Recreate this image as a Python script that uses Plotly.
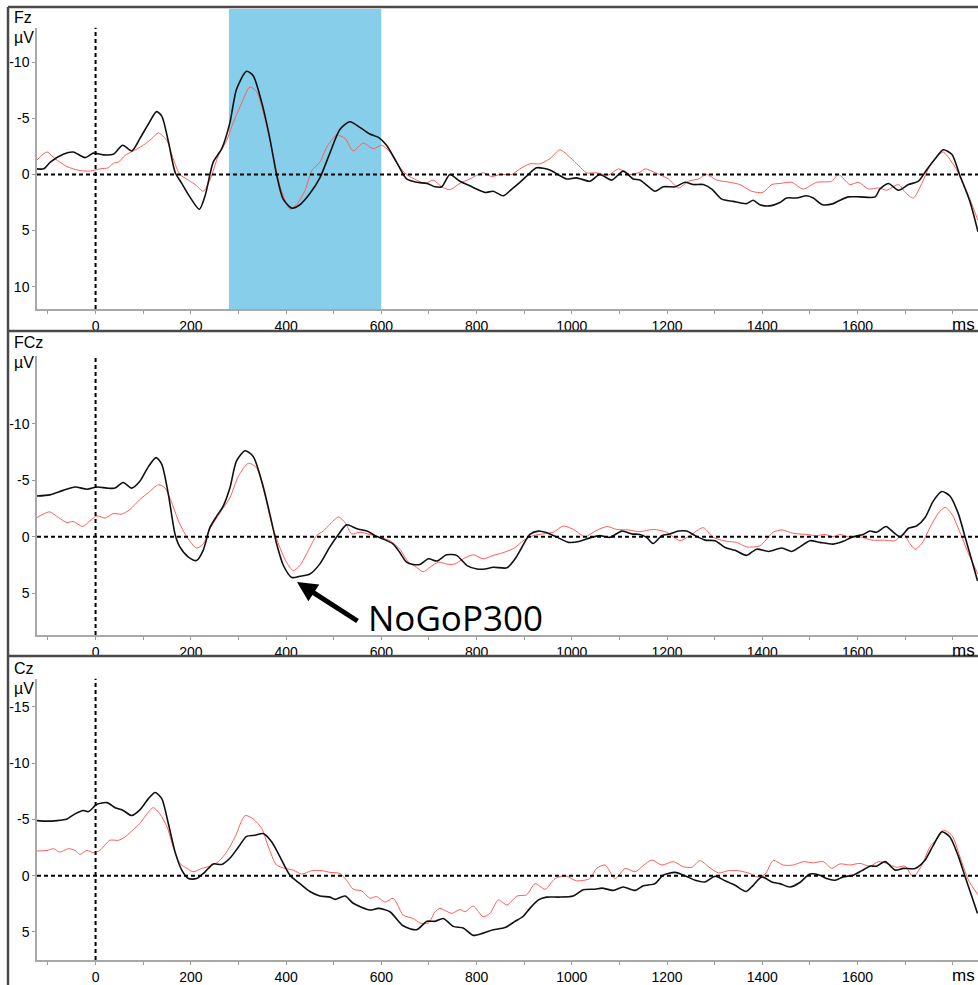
import plotly.graph_objects as go

# ---------------- data (time in ms, amplitude in µV) ----------------
fz_black = [(-123,-0.5),(-109,-0.5),(-95,-1.1),(-68,-1.8),(-47,-2.0),(-22,-1.5),(-5,-1.9),(16,-1.75),(37,-1.8),(57,-2.6),(76,-2.1),(93,-3.2),(111,-4.5),(128,-5.6),(139,-5.2),(153,-2.9),(167,-0.2),(181,0.8),(198,2.0),(218,3.1),(230,1.9),(247,-1.1),(265,-2.3),(282,-4.6),(296,-7.6),(317,-9.2),(331,-8.8),(349,-6.4),(366,-3.2),(380,0.0),(394,2.2),(412,3.0),(429,2.7),(450,1.7),(471,0.3),(492,-1.9),(513,-4.0),(534,-4.7),(555,-4.2),(576,-3.6),(594,-3.3),(611,-2.6),(632,-1.1),(653,0.4),(674,0.7),(696,0.8),(713,1.1),(727,1.1),(744,0.0),(765,0.6),(786,1.0),(800,1.3),(818,1.6),(835,1.5),(856,1.9),(874,1.3),(891,0.7),(909,0.0),(926,-0.6),(954,-0.4),(971,0.0),(989,0.4),(1010,0.3),(1038,0.6),(1059,0.0),(1084,0.5),(1108,-0.3),(1129,0.4),(1143,0.5),(1164,1.2),(1175,1.5),(1192,1.1),(1217,1.1),(1238,0.7),(1255,0.9),(1276,0.9),(1294,1.3),(1315,2.2),(1339,2.4),(1367,2.6),(1381,2.3),(1395,2.7),(1416,2.8),(1437,2.5),(1451,2.1),(1472,2.1),(1493,1.9),(1507,2.1),(1527,2.7),(1549,2.6),(1563,2.3),(1581,2.0),(1605,2.0),(1637,2.0),(1647,1.3),(1665,0.8),(1686,1.4),(1707,0.9),(1728,0.6),(1745,-0.4),(1763,-1.4),(1780,-2.2),(1798,-1.8),(1815,0.1),(1836,2.4),(1853,5.1)]
fz_red = [(-123,-1.3),(-102,-2.0),(-85,-1.4),(-60,-0.7),(-33,-0.35),(-12,-0.3),(9,-0.5),(27,-0.6),(37,-1.0),(48,-1.1),(62,-1.7),(79,-2.1),(100,-2.6),(118,-3.2),(132,-3.7),(150,-3.0),(163,-1.4),(177,0.0),(195,0.5),(212,1.0),(226,1.5),(240,0.5),(258,-1.7),(275,-3.0),(289,-4.6),(307,-6.4),(324,-7.8),(338,-7.4),(356,-4.9),(373,-1.7),(387,1.0),(408,3.1),(422,2.7),(440,1.4),(454,-0.35),(471,-1.1),(485,-2.4),(506,-3.5),(524,-3.2),(541,-2.1),(562,-2.8),(583,-2.3),(601,-2.6),(618,-2.0),(636,-0.8),(653,0.0),(674,0.5),(692,0.8),(709,0.5),(727,1.1),(744,1.35),(765,0.8),(786,0.4),(814,-0.15),(832,0.2),(849,0.0),(874,0.0),(891,-0.5),(912,-0.95),(933,-0.95),(954,-1.4),(975,-2.2),(997,-1.5),(1014,-0.8),(1031,-0.15),(1052,-0.15),(1077,0.05),(1098,-0.5),(1122,0.0),(1143,-0.2),(1154,-0.5),(1178,-0.1),(1203,0.4),(1224,1.2),(1245,0.6),(1266,0.4),(1283,0.0),(1304,0.5),(1332,0.7),(1353,0.9),(1378,1.5),(1401,1.6),(1420,0.9),(1437,0.8),(1462,0.7),(1486,1.3),(1514,0.7),(1546,0.6),(1560,0.0),(1584,0.9),(1602,0.7),(1623,1.3),(1644,1.2),(1661,1.4),(1686,0.9),(1700,1.6),(1717,2.1),(1735,0.8),(1752,-0.8),(1770,-1.7),(1780,-2.0),(1798,-1.1),(1815,0.1),(1836,2.2),(1853,4.1)]
fcz_black = [(-123,-3.6),(-96,-3.7),(-68,-4.1),(-43,-4.4),(-18,-4.2),(3,-4.4),(24,-4.3),(41,-4.3),(58,-4.8),(76,-4.3),(93,-4.9),(111,-6.2),(127,-7.0),(139,-6.4),(153,-3.7),(167,-0.2),(177,0.9),(195,1.8),(212,2.1),(226,1.2),(240,-0.8),(254,-1.8),(268,-2.7),(282,-4.3),(296,-6.7),(314,-7.6),(331,-7.1),(349,-4.9),(366,-2.0),(380,0.6),(394,2.5),(412,3.6),(429,3.5),(450,3.3),(471,2.4),(492,0.9),(510,-0.2),(527,-1.05),(549,-0.7),(570,-0.5),(587,-0.1),(604,0.2),(625,0.65),(639,1.4),(653,2.25),(667,2.45),(681,2.45),(699,1.95),(717,2.15),(737,1.6),(758,1.65),(780,2.55),(801,2.85),(818,2.85),(835,2.7),(864,2.75),(881,1.95),(895,0.95),(912,-0.2),(930,-0.5),(954,-0.25),(972,0.1),(993,0.5),(1017,0.4),(1038,0.1),(1059,-0.1),(1080,0.05),(1105,-0.5),(1126,-0.25),(1143,-0.2),(1157,0.05),(1171,0.6),(1189,-0.1),(1206,-0.25),(1224,-0.5),(1241,-0.5),(1259,-0.1),(1280,0.3),(1301,0.35),(1322,0.95),(1343,1.2),(1367,1.65),(1388,1.1),(1413,1.3),(1441,1.0),(1462,1.3),(1479,0.9),(1500,0.35),(1521,0.5),(1549,0.65),(1570,0.4),(1591,0.0),(1612,-0.2),(1626,-0.5),(1640,-0.4),(1660,-0.9),(1675,-0.4),(1690,0.0),(1707,-0.75),(1724,-0.95),(1742,-1.7),(1759,-3.15),(1777,-4.0),(1794,-3.6),(1812,-2.0),(1826,0.05),(1840,2.1),(1852,3.9)]
fcz_red = [(-123,-1.7),(-110,-2.0),(-96,-2.2),(-78,-1.7),(-60,-1.25),(-47,-1.35),(-27,-0.9),(-12,-1.4),(3,-1.85),(20,-1.65),(37,-2.05),(55,-2.0),(72,-2.4),(93,-3.3),(111,-3.9),(132,-4.6),(146,-4.3),(160,-3.0),(174,-1.4),(192,0.05),(212,1.0),(226,0.65),(240,-0.7),(261,-2.1),(282,-3.45),(300,-5.35),(321,-6.5),(338,-6.1),(356,-3.6),(370,-1.1),(387,0.95),(401,2.25),(415,3.0),(429,2.55),(447,1.2),(464,-0.1),(478,-0.5),(492,-1.1),(510,-1.75),(524,-1.25),(538,-0.25),(555,-0.4),(576,-0.2),(597,0.05),(618,0.35),(639,1.1),(657,2.25),(674,2.7),(688,3.1),(702,2.7),(720,2.25),(741,2.45),(755,2.4),(772,1.95),(793,1.6),(814,1.95),(835,1.65),(860,1.35),(881,0.95),(898,0.35),(919,-0.1),(940,-0.25),(961,-0.4),(982,-0.95),(1003,-0.65),(1028,0.0),(1049,-0.5),(1074,-0.9),(1094,-0.65),(1119,-0.6),(1143,-0.45),(1171,-0.65),(1199,-0.4),(1227,0.35),(1248,-0.1),(1276,-0.8),(1297,0.05),(1325,0.4),(1346,0.5),(1367,0.9),(1395,0.8),(1423,-0.4),(1441,-0.6),(1465,-0.3),(1493,-0.2),(1514,-0.1),(1532,-0.2),(1549,0.0),(1563,-0.2),(1584,0.05),(1605,0.0),(1630,0.3),(1655,0.3),(1679,0.35),(1696,-0.25),(1710,0.6),(1721,1.1),(1735,0.6),(1752,-0.8),(1770,-2.1),(1784,-2.6),(1798,-2.0),(1815,-0.4),(1833,1.5),(1853,3.3)]
cz_black = [(-123,-4.9),(-102,-4.85),(-81,-4.9),(-60,-5.05),(-43,-5.5),(-26,-5.8),(-15,-5.7),(3,-6.35),(24,-6.5),(41,-6.05),(58,-5.8),(76,-5.35),(93,-5.85),(111,-6.85),(125,-7.4),(139,-6.85),(153,-4.6),(167,-2.1),(181,-0.5),(195,0.25),(212,0.25),(230,-0.35),(247,-1.05),(265,-1.0),(282,-1.55),(300,-2.55),(317,-3.5),(335,-3.6),(352,-3.75),(370,-3.0),(387,-1.7),(408,-0.05),(429,0.7),(450,1.4),(471,1.8),(492,1.9),(503,2.1),(524,1.8),(541,2.45),(576,3.05),(594,2.9),(618,3.2),(646,4.45),(674,4.8),(696,4.05),(713,4.05),(730,3.8),(751,4.5),(772,4.65),(793,5.3),(814,5.1),(835,4.8),(860,4.6),(881,4.05),(898,3.6),(912,2.9),(930,2.15),(947,1.9),(972,1.9),(1003,1.8),(1024,1.25),(1049,1.2),(1063,1.1),(1087,1.3),(1108,1.0),(1133,1.3),(1150,0.9),(1175,0.7),(1192,-0.05),(1217,-0.3),(1238,0.0),(1259,0.4),(1280,0.55),(1301,0.05),(1322,0.45),(1343,0.85),(1366,1.4),(1381,0.85),(1399,0.1),(1420,0.55),(1437,0.7),(1458,1.0),(1479,0.6),(1500,-0.15),(1521,-0.05),(1535,0.25),(1553,0.4),(1570,0.1),(1591,-0.05),(1609,-0.45),(1626,-0.85),(1640,-0.85),(1658,-1.25),(1679,-0.5),(1696,-0.65),(1721,-0.65),(1742,-1.4),(1759,-2.7),(1777,-3.9),(1794,-3.45),(1812,-1.7),(1826,0.1),(1840,1.85),(1852,3.35)]
cz_red = [(-123,-2.2),(-102,-2.25),(-88,-2.4),(-75,-2.1),(-57,-2.4),(-43,-2.25),(-33,-1.9),(-18,-2.25),(-5,-2.05),(9,-2.25),(30,-3.15),(48,-3.15),(62,-3.45),(79,-4.1),(93,-4.65),(108,-5.5),(121,-6.05),(135,-5.5),(150,-4.35),(163,-2.55),(177,-1.1),(192,-0.65),(205,-0.35),(223,-0.65),(240,-0.85),(258,-1.25),(275,-2.1),(293,-3.45),(314,-5.35),(331,-5.05),(349,-4.2),(363,-2.55),(380,-0.95),(398,-0.65),(415,-0.5),(433,-0.15),(454,-0.45),(475,-0.45),(492,-0.3),(513,-0.2),(527,0.4),(541,1.2),(559,1.35),(576,2.0),(590,1.85),(608,2.35),(625,2.0),(646,3.5),(667,3.8),(681,4.2),(699,4.2),(713,3.2),(723,2.9),(748,3.35),(765,3.0),(776,3.2),(793,2.7),(814,3.65),(828,3.35),(846,2.15),(864,2.6),(885,1.8),(905,1.7),(923,0.7),(944,1.2),(965,0.25),(986,0.0),(1010,0.45),(1038,0.25),(1052,-0.65),(1070,-0.95),(1091,0.25),(1112,-0.65),(1133,-0.35),(1150,-0.9),(1168,-1.4),(1189,-0.95),(1213,-1.25),(1234,-0.8),(1252,-0.75),(1269,-1.35),(1287,-0.8),(1308,-0.25),(1329,-0.45),(1350,-0.45),(1374,-0.2),(1389,0.1),(1406,-0.15),(1423,-1.35),(1444,-0.95),(1465,-0.95),(1486,-1.25),(1507,-1.15),(1528,-1.25),(1546,-0.65),(1563,-1.05),(1584,-0.95),(1605,-1.1),(1626,-0.85),(1644,-1.25),(1661,-1.1),(1682,-0.75),(1700,-0.85),(1717,0.1),(1735,-0.95),(1752,-2.55),(1770,-3.45),(1780,-4.05),(1798,-3.6),(1815,-1.7),(1833,0.4),(1853,1.7)]

channels = ["Fz", "FCz", "Cz"]
y_ticks = [[-10, -5, 0, 5, 10], [-10, -5, 0, 5], [-15, -10, -5, 0, 5]]
y_ranges = [[12.0, -13.07], [8.7, -16.0], [7.5, -17.5]]
x_ticks = [0, 200, 400, 600, 800, 1000, 1200, 1400, 1600]
x_range = [-123, 1853]
window_ms = [280, 600]          # shaded analysis window (Fz)
nogo_peak = (423, 4.0)          # NoGoP300 arrow target on FCz (ms, µV)
unit_x, unit_y = "ms", "µV"

# ---------------- layout geometry (pixels) ----------------
W, H = 978, 985
plot_top = [28, 358, 683]
plot_bot = [311, 639, 966]
label_y = [(18, 38), (345, 365), (673, 693)]
x_left = 37
FONT = "Arial, Liberation Sans, sans-serif"

fig = go.Figure()
series = [(fz_black, fz_red), (fcz_black, fcz_red), (cz_black, cz_red)]
for i, (blk, red) in enumerate(series):
    sfx = "" if i == 0 else str(i + 1)
    for data, col, wid in ((red, "#ff5c5c", 1.0), (blk, "#111111", 1.6)):
        fig.add_trace(go.Scatter(
            x=[p[0] for p in data], y=[p[1] for p in data],
            mode="lines", line=dict(color=col, width=wid, shape="spline", smoothing=0.7),
            xaxis="x" + sfx, yaxis="y" + sfx, showlegend=False, hoverinfo="skip"))

layout = dict(width=W, height=H, margin=dict(l=0, r=0, t=0, b=0), autosize=False,
              paper_bgcolor="white", plot_bgcolor="rgba(0,0,0,0)", showlegend=False,
              font=dict(family=FONT, color="black"))
shapes, annotations = [], []
for i in range(3):
    sfx = "" if i == 0 else str(i + 1)
    xa, ya = "xaxis" + sfx, "yaxis" + sfx
    layout[xa] = dict(domain=[x_left / W, 1], range=x_range, anchor="y" + sfx,
                      tickvals=x_ticks, ticks="outside", ticklen=3, tickcolor="#9a9a9a",
                      showline=True, linecolor="#a8a8a8", linewidth=1.5,
                      showgrid=False, zeroline=False,
                      tickfont=dict(family=FONT, size=14, color="black"),
                      minor=dict(dtick=100, tick0=0, ticks="outside", ticklen=3, tickcolor="#9a9a9a"))
    layout[ya] = dict(domain=[1 - plot_bot[i] / H, 1 - plot_top[i] / H], range=y_ranges[i],
                      anchor="x" + sfx, tickvals=y_ticks[i], ticktext=[str(v) for v in y_ticks[i]],
                      ticks="outside", ticklen=3,
                      tickcolor="#9a9a9a", showline=True, linecolor="#a8a8a8", linewidth=1.5,
                      showgrid=False, zeroline=False,
                      tickfont=dict(family=FONT, size=14, color="black"))
    # zero line and stimulus-onset line
    shapes.append(dict(type="line", xref="x" + sfx + " domain", x0=0, x1=1, yref="y" + sfx, y0=0, y1=0,
                       line=dict(color="black", width=2, dash="4px,3px"), layer="above"))
    shapes.append(dict(type="line", xref="x" + sfx, x0=0, x1=0, yref="y" + sfx + " domain", y0=0, y1=1,
                       line=dict(color="black", width=2, dash="4px,3px"), layer="above"))
    # channel and unit labels
    annotations.append(dict(text=channels[i], xref="paper", yref="paper", x=12 / W,
                            y=1 - label_y[i][0] / H, xanchor="left", yanchor="middle",
                            showarrow=False, font=dict(family=FONT, size=16, color="black")))
    annotations.append(dict(text=unit_y, xref="paper", yref="paper", x=12 / W,
                            y=1 - label_y[i][1] / H, xanchor="left", yanchor="middle",
                            showarrow=False, font=dict(family=FONT, size=16, color="black")))
    annotations.append(dict(text=unit_x, xref="paper", yref="paper", x=977 / W,
                            y=1 - (plot_bot[i] + 15) / H, xanchor="right", yanchor="middle",
                            showarrow=False, font=dict(family=FONT, size=17, color="black")))

# shaded window in Fz panel (extends up to the panel frame)
shapes.insert(0, dict(type="rect", xref="x", x0=window_ms[0], x1=window_ms[1],
                      yref="y domain", y0=0, y1=(plot_bot[0] - 9) / (plot_bot[0] - plot_top[0]),
                      fillcolor="#87CEEB", line=dict(width=0), layer="below"))

# panel frames
frame = dict(color="#4a4a4a", width=2.5)
for yy in (7, 333, 660):
    shapes.append(dict(type="line", xref="paper", yref="paper", x0=8 / W, x1=1.01,
                       y0=1 - yy / H, y1=1 - yy / H, line=frame))
shapes.append(dict(type="line", xref="paper", yref="paper", x0=8 / W, x1=8 / W,
                   y0=-0.01, y1=1 - 7 / H, line=frame))

# NoGoP300 arrow + label
annotations.append(dict(x=nogo_peak[0], y=nogo_peak[1], xref="x2", yref="y2", ax=62, ay=40,
                        axref="pixel", ayref="pixel", text="", showarrow=True, arrowhead=2,
                        arrowsize=0.8, arrowwidth=5, arrowcolor="black"))
annotations.append(dict(text="NoGoP300", xref="paper", yref="paper", x=366 / W, y=1 - 621 / H,
                        xanchor="left", yanchor="middle", showarrow=False,
                        font=dict(family="Open Sans, sans-serif", size=35, color="black")))

layout["shapes"] = shapes
layout["annotations"] = annotations
fig.update_layout(**layout)
fig.write_html("out.html", config={"displayModeBar": False},
               post_script="document.body.style.margin='0';document.body.style.overflow='hidden';")
